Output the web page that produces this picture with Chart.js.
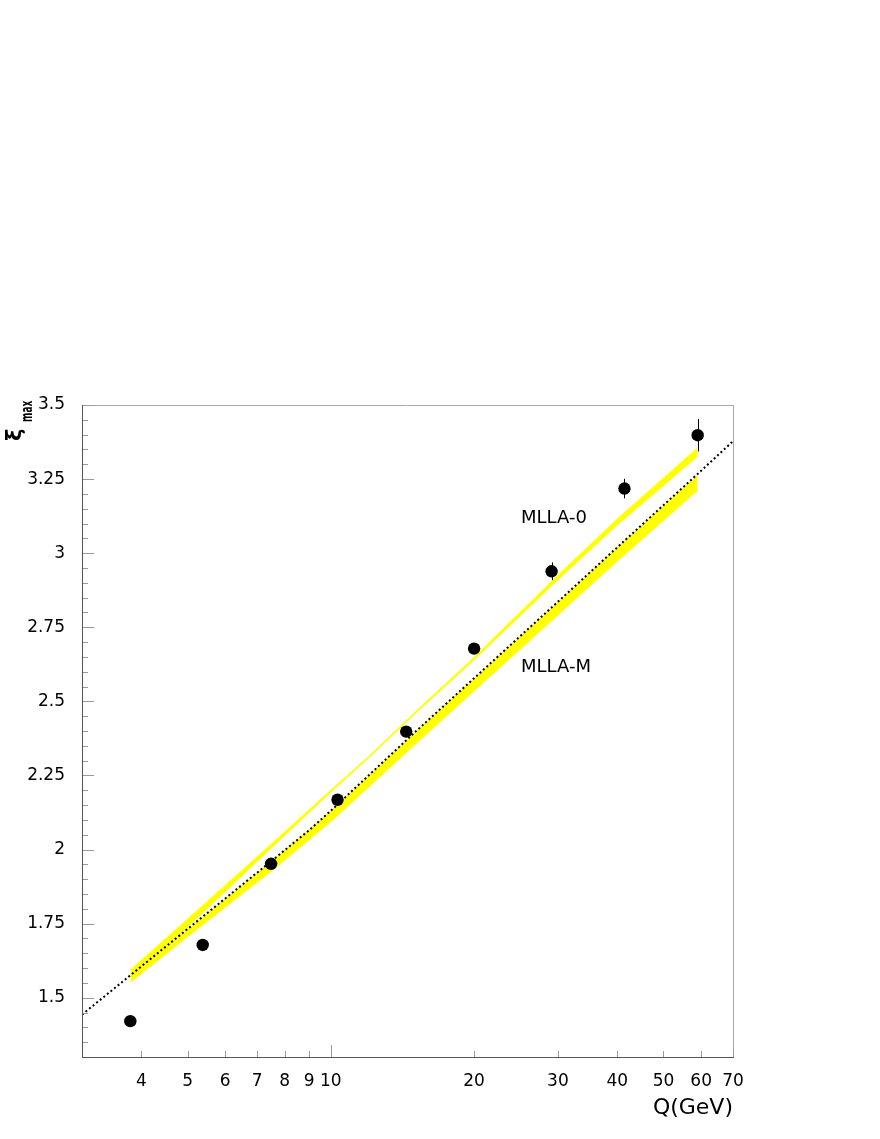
<!DOCTYPE html>
<html>
<head>
<meta charset="utf-8">
<script src="https://cdn.jsdelivr.net/npm/chart.js@4.4.1/dist/chart.umd.min.js"></script>
<style>
  html, body { margin: 0; padding: 0; background: #fff; }
  #wrap { width: 880px; height: 1139px; }
</style>
</head>
<body>
<div id="wrap"><canvas id="xiChart" width="880" height="1139"></canvas></div>
<script>
// measured peak positions
const qData   = [3.79, 5.38, 7.49, 10.33, 14.4, 20.0, 29.1, 41.4, 59.0];
const xiData  = [1.421, 1.678, 1.952, 2.168, 2.398, 2.678, 2.939, 3.218, 3.398];
const xiErr   = [0.012, 0.012, 0.014, 0.015, 0.016, 0.018, 0.030, 0.033, 0.055];

// dotted curve
const dotQ  = [3, 4, 5, 6, 7.5, 9, 10, 15, 20, 30, 40, 50, 60, 70];
const dotXi = [1.443, 1.606, 1.732, 1.835, 1.961, 2.065, 2.131, 2.395, 2.578, 2.836, 3.020, 3.162, 3.278, 3.378];

// MLLA-0 band (upper)
const oQ  = [3.8, 5, 7.5, 10, 12, 15, 20, 30, 40, 59];
const oHi = [1.594, 1.765, 2.018, 2.200, 2.313, 2.462, 2.648, 2.925, 3.115, 3.355];
const oLo = [1.568, 1.739, 2.005, 2.194, 2.309, 2.457, 2.640, 2.910, 3.095, 3.327];

// MLLA-M band (lower)
const mQ  = [3.8, 5, 7.5, 10, 15, 20, 30, 40, 59];
const mHi = [1.574, 1.729, 1.958, 2.128, 2.392, 2.575, 2.833, 3.017, 3.262];
const mLo = [1.553, 1.706, 1.927, 2.094, 2.353, 2.535, 2.791, 2.973, 3.212];

// axes
const xTicks = [4, 5, 6, 7, 8, 9, 10, 20, 30, 40, 50, 60, 70];
const xMajor = [10];
const yLabels = ['1.5', '1.75', '2', '2.25', '2.5', '2.75', '3', '3.25', '3.5'];

const FONT = '"DejaVu Sans", "Liberation Sans", sans-serif';
const BAND = '#ffff00';

// minor y ticks every 0.05 (in hundredths to avoid float trouble)
const yTicks = [];
for (let k = 135; k <= 350; k += 5) yTicks.push(k / 100);
const yLabelOf = {};
yLabels.forEach(s => { yLabelOf[Math.round(parseFloat(s) * 100)] = s; });

function pts(xs, ys) {
    return xs.map((x, i) => ({x: x, y: ys[i]}));
}

const errorBars = {
    id: 'errorBars',
    afterDatasetsDraw(chart) {
        const {ctx, scales: {x, y}} = chart;
        ctx.save();
        ctx.strokeStyle = '#000';
        ctx.lineWidth = 1;
        qData.forEach((q, i) => {
            const px = Math.round(x.getPixelForValue(q)) + 0.5;
            ctx.beginPath();
            ctx.moveTo(px, y.getPixelForValue(xiData[i] + xiErr[i]));
            ctx.lineTo(px, y.getPixelForValue(xiData[i] - xiErr[i]));
            ctx.stroke();
        });
        ctx.restore();
    }
};

const frame = {
    id: 'frame',
    afterDraw(chart) {
        const {ctx, chartArea: a, scales: {x, y}} = chart;
        const line = (x1, y1, x2, y2) => {
            ctx.beginPath(); ctx.moveTo(x1, y1); ctx.lineTo(x2, y2); ctx.stroke();
        };
        ctx.save();
        ctx.lineWidth = 1;
        ctx.strokeStyle = '#a8a8a8';
        line(a.left, a.top + 0.5, a.right, a.top + 0.5);
        line(a.right + 0.5, a.top, a.right + 0.5, a.bottom);

        ctx.strokeStyle = '#999';
        yTicks.forEach(v => {
            const py = Math.round(y.getPixelForValue(v)) + 0.5;
            const len = yLabelOf[Math.round(v * 100)] ? 12 : 6;
            line(a.left, py, a.left + len, py);
        });
        xTicks.forEach(v => {
            const px = Math.round(x.getPixelForValue(v)) + 0.5;
            const len = xMajor.includes(v) ? 12 : 6;
            line(px, a.bottom, px, a.bottom - len);
        });

        ctx.strokeStyle = '#555';
        line(a.left + 0.5, a.top, a.left + 0.5, a.bottom);
        line(a.left, a.bottom + 0.5, a.right + 1, a.bottom + 0.5);

        // curve labels
        ctx.fillStyle = '#000';
        ctx.font = '18px ' + FONT;
        ctx.textBaseline = 'middle';
        ctx.textAlign = 'left';
        ctx.fillText('MLLA-0', 521, 518);
        ctx.fillText('MLLA-M', 521, 667);

        // x title
        ctx.font = '22px ' + FONT;
        ctx.textAlign = 'right';
        ctx.fillText('Q(GeV)', a.right, 1108);

        // y title, rotated
        ctx.translate(21, 441);
        ctx.rotate(-Math.PI / 2);
        ctx.textAlign = 'left';
        ctx.textBaseline = 'alphabetic';
        ctx.font = 'bold 21px ' + FONT;
        ctx.fillText('ξ', 0, 0);
        ctx.translate(19, 11);
        ctx.scale(0.6, 1);
        ctx.font = 'bold 15px ' + FONT;
        ctx.fillText('max', 0, 0);
        ctx.restore();
    }
};

new Chart(document.getElementById('xiChart'), {
    type: 'scatter',
    data: {
        datasets: [
            {
                label: 'data',
                data: pts(qData, xiData),
                pointRadius: 6.2,
                pointHoverRadius: 6.2,
                backgroundColor: '#000',
                borderWidth: 0
            },
            {
                label: 'dotted',
                type: 'line',
                data: pts(dotQ, dotXi),
                borderColor: '#000',
                borderWidth: 2,
                borderDash: [2, 2.6],
                pointRadius: 0,
                fill: false
            },
            {
                label: 'MLLA-0 hi',
                type: 'line',
                data: pts(oQ, oHi),
                borderColor: BAND,
                borderWidth: 1,
                pointRadius: 0,
                backgroundColor: BAND,
                fill: '+1'
            },
            {
                label: 'MLLA-0 lo',
                type: 'line',
                data: pts(oQ, oLo),
                borderColor: BAND,
                borderWidth: 1,
                pointRadius: 0,
                fill: false
            },
            {
                label: 'MLLA-M hi',
                type: 'line',
                data: pts(mQ, mHi),
                borderColor: BAND,
                borderWidth: 1,
                pointRadius: 0,
                backgroundColor: BAND,
                fill: '+1'
            },
            {
                label: 'MLLA-M lo',
                type: 'line',
                data: pts(mQ, mLo),
                borderColor: BAND,
                borderWidth: 1,
                pointRadius: 0,
                fill: false
            }
        ]
    },
    options: {
        responsive: false,
        animation: false,
        events: [],
        layout: { padding: { top: 405, right: 147, left: 0, bottom: 0 } },
        plugins: { legend: { display: false }, tooltip: { enabled: false } },
        scales: {
            x: {
                type: 'logarithmic',
                min: 3,
                max: 70,
                afterBuildTicks: s => { s.ticks = xTicks.map(v => ({value: v})); },
                afterFit: s => { s.height = 82; },
                grid: { display: false, drawTicks: false },
                border: { display: false },
                ticks: {
                    autoSkip: false,
                    maxRotation: 0,
                    minRotation: 0,
                    padding: 14,
                    color: '#000',
                    font: { family: FONT, size: 17 },
                    callback: v => String(v)
                }
            },
            y: {
                type: 'linear',
                min: 1.3,
                max: 3.5,
                afterBuildTicks: s => { s.ticks = yTicks.map(v => ({value: v})); },
                afterFit: s => { s.width = 82; },
                grid: { display: false, drawTicks: false },
                border: { display: false },
                ticks: {
                    autoSkip: false,
                    padding: 17,
                    color: '#000',
                    font: { family: FONT, size: 17 },
                    callback: v => yLabelOf[Math.round(v * 100)] || ''
                }
            }
        }
    },
    plugins: [errorBars, frame]
});
</script>
</body>
</html>
